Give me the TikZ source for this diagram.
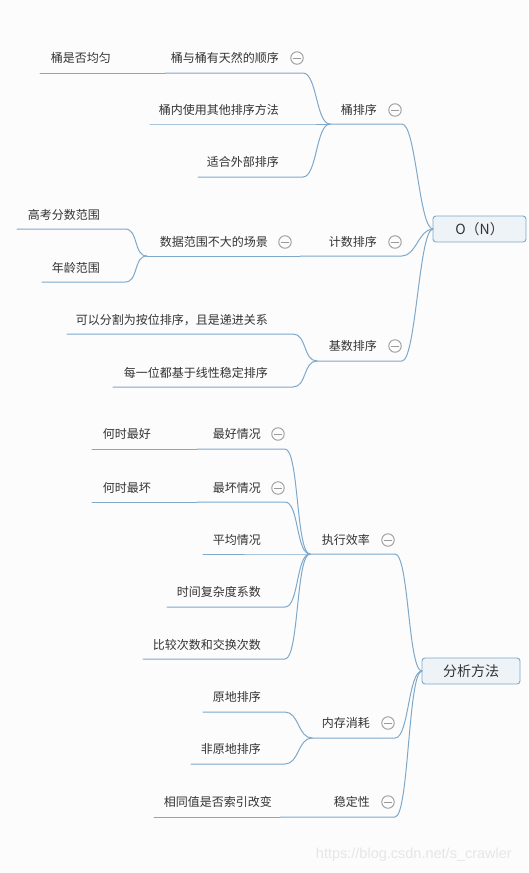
\documentclass[tikz,border=0pt]{standalone}
\usepackage{fontspec}
\newfontfamily\cjk{Noto Sans CJK SC}
\newfontfamily\wmfont{Liberation Sans}
\definecolor{txt}{HTML}{333333}
\definecolor{lnk}{HTML}{7EA9CB}
\definecolor{foldc}{HTML}{9A9A9A}
\definecolor{rootfill}{HTML}{EEF3F8}
\definecolor{bg}{HTML}{FCFCFC}
\definecolor{wm}{HTML}{E6E6E6}
\tikzset{
  topic/.style={font=\cjk\fontsize{12}{14}\selectfont, text=txt, inner sep=0pt, anchor=east, text height=10pt, text depth=2pt},
  topicw/.style={topic, anchor=west},
  link/.style={draw=lnk, line width=1pt, line cap=round},
  fold/.style={circle, draw=foldc, line width=0.9pt, minimum size=12.5pt, inner sep=0pt,
    path picture={\draw[foldc, line width=0.9pt] ([xshift=-3.8pt]path picture bounding box.center) -- ([xshift=3.8pt]path picture bounding box.center);}},
  rootbox/.style={draw=lnk, fill=rootfill, line width=0.9pt, rounded corners=3pt, font=\cjk\fontsize{14}{16}\selectfont, text=txt, inner sep=0pt}
}
\newcommand\mmtopic[7]{%
  \node[topic] (#1) at (#3,#4) {#2};
  \coordinate (#1-l) at (#6,#5);
  \coordinate (#1-r) at (#7,#5);
}
\newcommand\mmlink[2]{%
  \draw[link] (#1-l) -- (#1-r) .. controls +(14,0) and +(-14,0) .. (#2);
}
\begin{document}
\begin{tikzpicture}[x=1pt,y=-1pt]
\fill[bg] (0,0) rectangle (528,873);
\useasboundingbox (0,0) rectangle (528,873);

% roots
\node[rootbox, minimum width=93pt, minimum height=26pt] (on) at (479.5,229) {O（N）};
\coordinate (on-j) at (433,229);
\node[rootbox, minimum width=98pt, minimum height=26pt] (fx) at (471,671) {分析方法};
\coordinate (fx-j) at (422,671);

% ---- O(N) branch ----
\mmtopic{a1}{桶排序}{377}{110}{124}{330}{402}
\node[fold] (a1-f) at (395,110) {};
\mmtopic{a2}{计数排序}{377}{242}{256}{300}{402}
\node[fold] (a2-f) at (395,242) {};
\mmtopic{a3}{基数排序}{377}{346}{361}{317}{402}
\node[fold] (a3-f) at (395,346) {};
\mmlink{a1}{on-j}
\mmlink{a2}{on-j}
\mmlink{a3}{on-j}

\mmtopic{b1}{桶与桶有天然的顺序}{279}{58}{73}{165}{303}
\node[fold] (b1-f) at (297,58) {};
\mmtopic{b2}{桶内使用其他排序方法}{279}{110}{124}{150}{303}
\mmtopic{b3}{适合外部排序}{279}{162}{177}{198}{303}
\mmlink{b1}{a1-l}
\mmlink{b2}{a1-l}
\mmlink{b3}{a1-l}

\mmtopic{e1}{桶是否均匀}{111}{58}{73}{40}{165}
\draw[link] (e1-l) -- (b1-l);

\mmtopic{c1}{数据范围不大的场景}{268}{242}{256}{147}{300}
\node[fold] (c1-f) at (285,242) {};
\draw[link] (c1-l) -- (a2-l);

\mmtopic{d1}{高考分数范围}{100}{215}{229}{17}{125}
\mmtopic{d2}{年龄范围}{100}{268}{282}{42}{125}
\mmlink{d1}{c1-l}
\mmlink{d2}{c1-l}

\mmtopic{c2}{可以分割为按位排序，且是递进关系}{268}{320}{334}{67}{293}
\mmtopic{c3}{每一位都基于线性稳定排序}{268}{373}{387}{113}{293}
\mmlink{c2}{a3-l}
\mmlink{c3}{a3-l}

% ---- 分析方法 branch ----
\mmtopic{f1}{执行效率}{370}{540}{554}{310}{395}
\node[fold] (f1-f) at (388,540) {};
\mmtopic{f2}{内存消耗}{370}{723}{738}{312}{395}
\node[fold] (f2-f) at (388,723) {};
\mmtopic{f3}{稳定性}{370}{802}{817}{280}{395}
\node[fold] (f3-f) at (388,802) {};
\mmlink{f1}{fx-j}
\mmlink{f2}{fx-j}
\mmlink{f3}{fx-j}

\mmtopic{g1}{相同值是否索引改变}{272}{802}{817}{154}{280}
\draw[link] (g1-l) -- (f3-l);

\mmtopic{h1}{最好情况}{261}{434}{449}{197}{285}
\node[fold] (h1-f) at (278,434) {};
\mmtopic{h2}{最坏情况}{261}{488}{502}{197}{285}
\node[fold] (h2-f) at (278,488) {};
\mmtopic{h3}{平均情况}{261}{540}{554}{203}{285}
\mmtopic{h4}{时间复杂度系数}{261}{592}{607}{167}{285}
\mmtopic{h5}{比较次数和交换次数}{261}{645}{659}{143}{285}
\mmlink{h1}{f1-l}
\mmlink{h2}{f1-l}
\mmlink{h3}{f1-l}
\mmlink{h4}{f1-l}
\mmlink{h5}{f1-l}

\mmtopic{i1}{何时最好}{151}{434}{449}{92}{197}
\draw[link] (i1-l) -- (h1-l);
\mmtopic{i2}{何时最坏}{151}{488}{502}{92}{197}
\draw[link] (i2-l) -- (h2-l);

\mmtopic{j1}{原地排序}{261}{697}{712}{203}{285}
\mmtopic{j2}{非原地排序}{261}{749}{764}{191}{285}
\mmlink{j1}{f2-l}
\mmlink{j2}{f2-l}

% watermark
\node[font=\wmfont\fontsize{14.5}{16}\selectfont, text=wm, anchor=east, inner sep=0pt] (wmark) at (512,855) {https://blog.csdn.net/s\_crawler};
\end{tikzpicture}
\end{document}
